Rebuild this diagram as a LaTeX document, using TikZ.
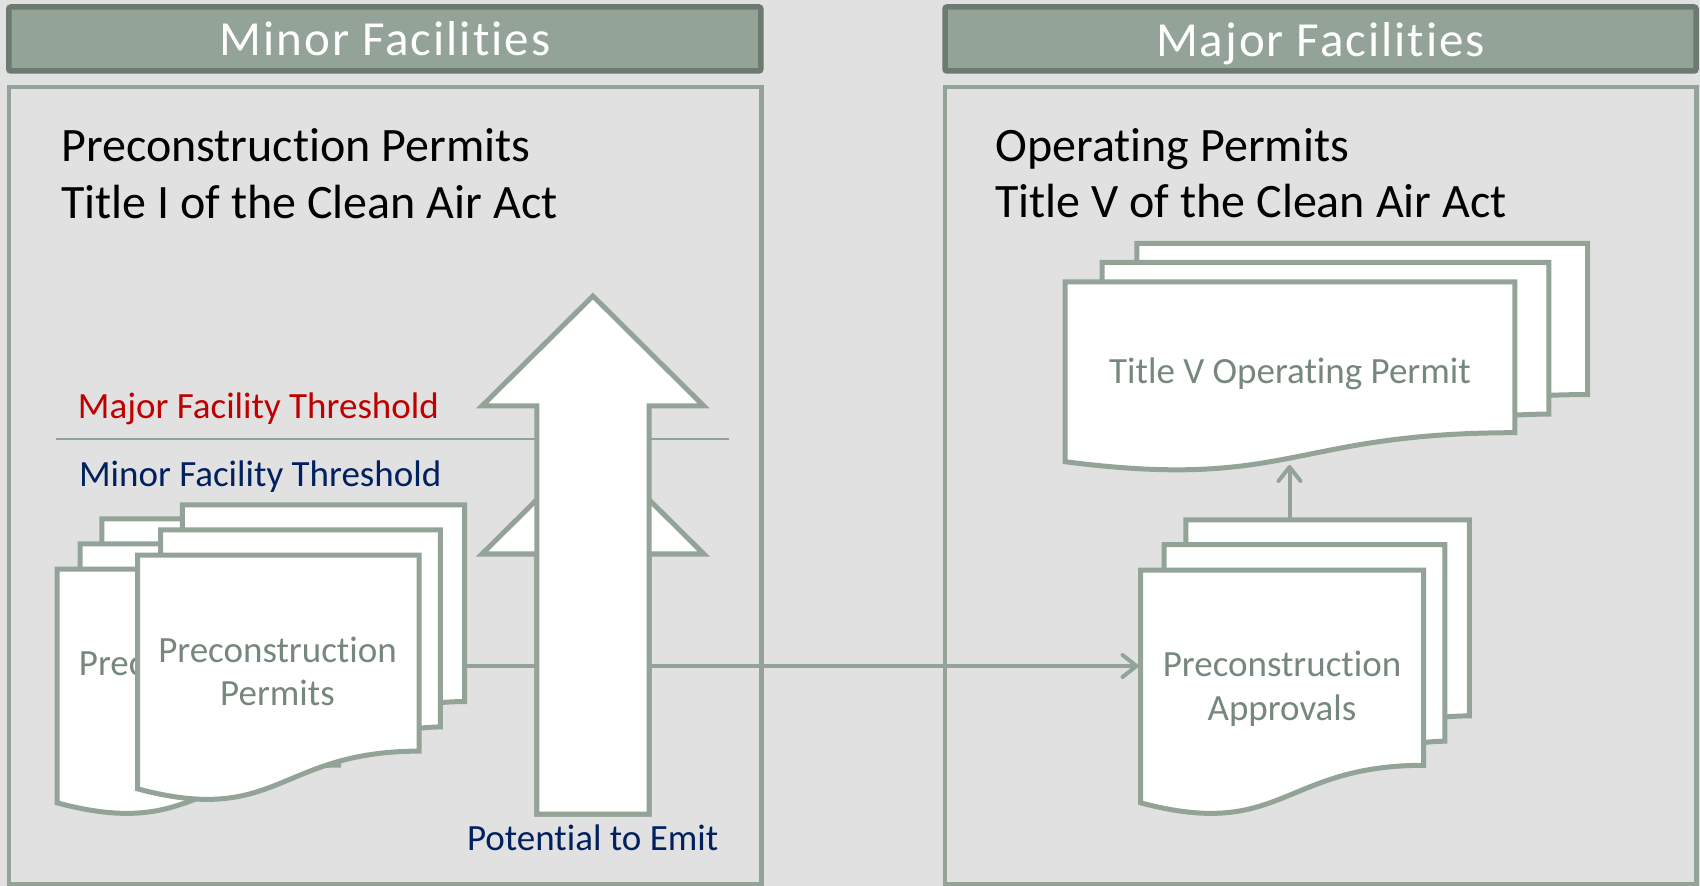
\documentclass[tikz,border=0pt]{standalone}
\usepackage{fontspec}
\setmainfont[Ligatures=NoCommon]{Carlito}
\newfontfamily\hfont[LetterSpace=4,Ligatures=NoCommon]{Carlito}
\usetikzlibrary{arrows.meta}
\definecolor{bgc}{HTML}{E1E1E1}
\definecolor{hfill}{HTML}{93A397}
\definecolor{hline}{HTML}{6C7A70}
\definecolor{sage}{HTML}{93A397}
\definecolor{doctxt}{HTML}{76887B}
\definecolor{redt}{HTML}{C00000}
\definecolor{navy}{HTML}{002060}
\newcommand{\mdoc}[4]{%
 \begin{scope}[shift={(#1,#2)},xscale=#3,yscale=#4]
  \draw[docline] (0.1376,0) -- (1,0) -- (1,0.6663) .. controls (0.963,0.6663) and (0.9259,0.6698) .. (0.9259,0.6698) -- (0.1376,0.6698) -- cycle;
  \draw[docline] (0.0709,0.0840) -- (0.9259,0.0840) -- (0.9259,0.7524) .. controls (0.8934,0.7524) and (0.8609,0.7570) .. (0.8609,0.7570) -- (0.0709,0.7570) -- cycle;
  \draw[docline] (0,0.1701) -- (0.8609,0.1701) -- (0.8609,0.8344) .. controls (0.4305,0.8344) and (0.4305,1.0899) .. (0,0.9621) -- cycle;
 \end{scope}}
\tikzset{
  docline/.style={draw=sage,line width=2.5pt,fill=white,line join=miter},
  hbox/.style={draw=hline,fill=hfill,line width=2.75pt,rounded corners=1pt},
  panel/.style={draw=sage,line width=2.25pt},
  htext/.style={font=\hfont\fontsize{24.5}{28}\selectfont,text=white,anchor=base,inner sep=0pt},
  ttext/.style={font=\fontsize{24}{28}\selectfont,text=black,anchor=base west,inner sep=0pt},
  doctext/.style={font=\fontsize{18.5}{22}\selectfont,text=doctxt,anchor=base,inner sep=0pt},
  thtext/.style={font=\fontsize{18.5}{22}\selectfont,anchor=base west,inner sep=0pt},
  bigarrow/.style={draw=sage,fill=white,line width=2.5pt,line join=miter},
  conn/.style={draw=sage,line width=2pt,-{Straight Barb[length=7pt,width=11pt,round]}},
}
\begin{document}
\begin{tikzpicture}[x=0.5pt,y=-0.5pt]
\useasboundingbox (0,0) rectangle (1700,886);
\fill[bgc] (0,0) rectangle (1700,886);
% headers and panels
\draw[hbox] (8.8,7) rectangle (760.8,71);
\draw[hbox] (945,7) rectangle (1696,71);
\draw[panel] (9.2,86.8) rectangle (761.3,884.5);
\draw[panel] (945,86.8) rectangle (1696.5,884.5);
\node[htext] (hminor) at (385,56) {Minor Facilities};
\node[htext] (hmajor) at (1320.5,56.5) {Major Facilities};
% titles
\node[ttext] (t1) at (61,161.7) {Preconstruction Permits};
\node[ttext] (t2) at (61,218.3) {Title I of the Clean Air Act};
\node[ttext] (t3) at (995,162) {Operating Permits};
\node[ttext] (t4) at (995,217.5) {Title V of the Clean Air Act};
% threshold line
\coordinate (thl) at (56,439);
\coordinate (thr) at (729,439);
\draw[sage,line width=1pt] (thl) -- (thr);
% connectors (behind the arrows)
\coordinate (Aout) at (464.5,666);
\coordinate (Cin) at (1138.5,666);
\draw[conn] (Aout) -- (Cin);
% left multidocuments
\mdoc{57}{519}{327}{295}
\node[doctext,anchor=base west] (btxt) at (78.5,675) {Prec};
\mdoc{137.5}{505}{327}{295}
\node[doctext] (a1) at (277.5,662) {Preconstruction};
\node[doctext] (a2) at (277.5,705) {Permits};
% potential to emit arrows
\draw[bigarrow] (536.8,814) -- (536.8,554) -- (482,554) -- (592.9,444) -- (703.8,554) -- (649.2,554) -- (649.2,814) -- cycle;
\draw[bigarrow] (536.8,814) -- (536.8,406) -- (482,406) -- (592.9,296) -- (703.8,406) -- (649.2,406) -- (649.2,814) -- cycle;
% right multidocuments
\mdoc{1065}{243.3}{522.6}{227}
\node[doctext] (d1) at (1290,383.3) {Title V Operating Permit};
\mdoc{1140.7}{520}{328.6}{294}
\node[doctext] (c1) at (1282,676.7) {Preconstruction};
\node[doctext] (c2) at (1282,720) {Approvals};
\coordinate (Ctop) at (1289.5,519);
\coordinate (Dbot) at (1289.5,465);
\draw[conn] (Ctop) -- (Dbot);
% labels
\node[thtext,text=redt] (major) at (77.5,418.3) {Major Facility Threshold};
\node[thtext,text=navy] (minor) at (78.6,486.7) {Minor Facility Threshold};
\node[thtext,text=navy,anchor=base] (pte) at (592.7,850) {Potential to Emit};
\end{tikzpicture}
\end{document}
